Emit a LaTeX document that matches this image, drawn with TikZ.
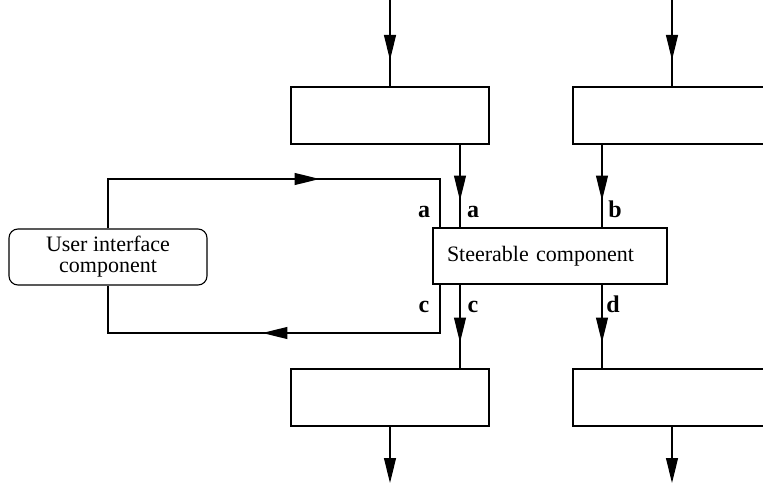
\documentclass[tikz,border=0pt]{standalone}
\usepackage{fontspec}
\setmainfont{Liberation Serif}
\usetikzlibrary{arrows.meta,decorations.markings}
\begin{document}
\begin{tikzpicture}[x=1pt,y=-1pt,line width=1.1pt,>={Triangle[length=25pt,width=12pt]},
  font=\fontsize{22}{21}\selectfont,
  box/.style={draw,rectangle,minimum width=198pt,minimum height=57pt,inner sep=0pt},
  midflow/.style={postaction={decorate},decoration={markings,mark=at position #1 with {\arrow{>}}}},
  lbl/.style={anchor=base,inner sep=0pt,font=\fontsize{24}{24}\selectfont\bfseries}]
\useasboundingbox (0,0) rectangle (763,484);
\node[box] (src1) at (390,115.5) {};
\node[box] (src2) at (672,115.5) {};
\node[box,minimum width=234pt,minimum height=56pt,inner xsep=14pt,text width=206pt,align=left] (steer) at (550,256) {Steerable component};
\node[box,rounded corners=9pt,minimum height=56pt,align=center] (ui) at (108,257) {User interface\\component};
\node[box] (dst1) at (390,397.5) {};
\node[box] (dst2) at (672,397.5) {};
\coordinate (in1) at (390,0);
\coordinate (in2) at (672,0);
\coordinate (out1) at (390,483);
\coordinate (out2) at (672,483);
\coordinate (pa) at ([xshift=-90pt]steer.north);
\coordinate (pb) at ([xshift=52pt]steer.north);
\coordinate (pc) at ([xshift=-90pt]steer.south);
\coordinate (pd) at ([xshift=52pt]steer.south);
\coordinate (fa) at ([xshift=-110pt]steer.north);
\coordinate (fc) at ([xshift=-110pt]steer.south);
\coordinate (ftop) at (440,179);
\coordinate (fbot) at (440,333);
\draw[midflow=60pt] (in1) -- (src1);
\draw[midflow=60pt] (in2) -- (src2);
\draw[midflow=56pt] (src1.south -| pa) -- (pa);
\draw[midflow=56pt] (src2.south -| pb) -- (pb);
\draw[midflow=58pt] (pc) -- (dst1.north -| pc);
\draw[midflow=58pt] (pd) -- (dst2.north -| pd);
\draw[->] (dst1) -- (out1);
\draw[->] (dst2) -- (out2);
\draw[midflow=261pt] (ui) |- (ftop) -- (fa);
\draw[midflow=226pt] (fc) -- (fbot) -| (ui);
\node[lbl] (la1) at (424,217) {a};
\node[lbl] (la2) at (473,217) {a};
\node[lbl] (lb) at (615,217) {b};
\node[lbl] (lc1) at (424,312) {c};
\node[lbl] (lc2) at (473,312) {c};
\node[lbl] (ld) at (613,312) {d};
\end{tikzpicture}
\end{document}
